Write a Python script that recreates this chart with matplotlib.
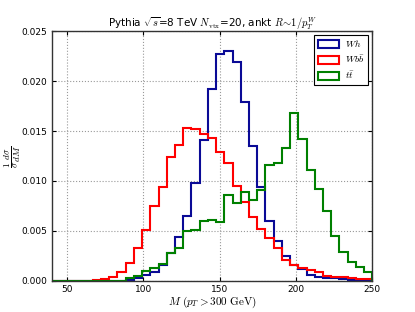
import numpy as np
import matplotlib
matplotlib.use("Agg")
import matplotlib.pyplot as plt

plt.rcParams['mathtext.fontset'] = 'cm'
plt.rcParams['font.family'] = 'DejaVu Sans'

# bin edges (GeV)
edges = np.linspace(40, 250, 40)

wh = [0, 0, 0, 0, 0, 0, 0, 0, 0, 0.0001,
      0.0003, 0.0006, 0.0009, 0.0016, 0.0028, 0.0044, 0.0065, 0.0098, 0.0141, 0.0192,
      0.0227, 0.0230, 0.0219, 0.0179, 0.0135, 0.0094, 0.0060, 0.0040, 0.0025, 0.0016,
      0.0012, 0.0006, 0.0004, 0.0003, 0.0003, 0.0002, 0.0001, 0.0001, 0.0001]

wbb = [0, 0, 0, 0, 0.00003, 0.0001, 0.0002, 0.0004, 0.0009, 0.0018,
       0.0033, 0.0051, 0.0075, 0.0094, 0.0124, 0.0136, 0.0153, 0.0152, 0.0147, 0.0143,
       0.0129, 0.0118, 0.0095, 0.0079, 0.0064, 0.0052, 0.0043, 0.0033, 0.0021, 0.0016,
       0.0013, 0.0011, 0.0009, 0.0005, 0.0004, 0.0004, 0.0003, 0.0002, 0.0002]

tt = [0, 0, 0, 0, 0, 0, 0, 0, 0, 0.0003,
      0.0005, 0.0010, 0.0013, 0.0017, 0.0028, 0.0033, 0.0050, 0.0051, 0.0060, 0.0061,
      0.0059, 0.0086, 0.0078, 0.0089, 0.0081, 0.0091, 0.0116, 0.0118, 0.0133, 0.0168,
      0.0142, 0.0111, 0.0092, 0.0070, 0.0045, 0.0029, 0.0019, 0.0014, 0.0009]

labels = [r'$Wh$', r'$Wb\bar{b}$', r'$t\bar{t}$']
colors = ['#0a0a96', '#ff0000', '#008000']
xticks = [50, 100, 150, 200, 250]
yticks = [0.000, 0.005, 0.010, 0.015, 0.020, 0.025]

fig = plt.figure(figsize=(4.15, 3.12), dpi=100)
ax = fig.add_axes([0.1246, 0.0994, 0.7724, 0.8012])

centers = 0.5 * (edges[:-1] + edges[1:])
for vals, lab, col in zip([wh, wbb, tt], labels, colors):
    ax.hist(centers, bins=edges, weights=vals, histtype='step',
            color=col, linewidth=1.5, label=lab)

ax.set_xlim(40, 250)
ax.set_ylim(0, 0.025)
ax.set_xticks(xticks)
ax.set_yticks(yticks)
ax.set_yticklabels(['%.3f' % v for v in yticks])
ax.tick_params(direction='in', top=True, right=True, labelsize=6.5, length=3, pad=3)
ax.grid(True, linestyle=':', color='0.6', linewidth=0.8)
for s in ax.spines.values():
    s.set_linewidth(1.0)
    s.set_color('0.2')

ax.set_title(r'Pythia $\sqrt{s}$=8 TeV $N_{\rm vtx}$=20, ankt $R\!\sim\!1/p_T^W$',
             fontsize=7.5, pad=3)
ax.set_xlabel(r'$M\ (p_T>300\ \rm{GeV})$', fontsize=8)
ax.xaxis.set_label_coords(0.5, -0.056)
ax.set_ylabel(r'$\frac{1}{\sigma}\frac{d\sigma}{dM}$', fontsize=9.5)
ax.yaxis.set_label_coords(-0.09, 0.5)

leg = ax.legend(loc='upper right', fontsize=7, fancybox=False, framealpha=1,
                edgecolor='black', handlelength=2.2, handleheight=0.9,
                handletextpad=0.6, borderpad=0.35,
                borderaxespad=0.4, labelspacing=0.45)
leg.get_frame().set_linewidth(0.8)

fig.savefig('out.png', dpi=100)
